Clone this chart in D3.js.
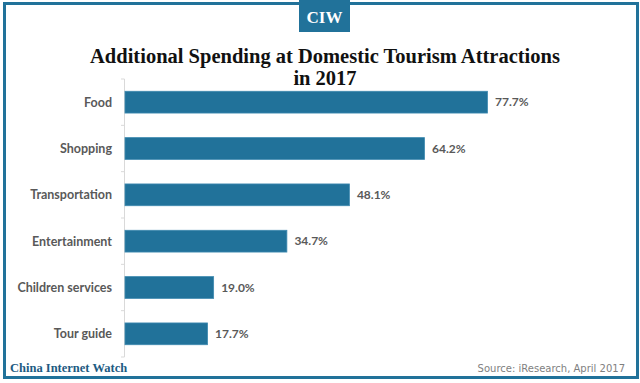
<!DOCTYPE html>
<html>
<head>
<meta charset="utf-8">
<script src="https://cdn.jsdelivr.net/npm/d3@7"></script>
<style>
  body { margin: 0; background: #fff; }
  svg { display: block; }
</style>
</head>
<body>
<script>
const width = 640;
const height = 383;

// data
const categories = ["Food", "Shopping", "Transportation", "Entertainment", "Children services", "Tour guide"];
const values = [77.7, 64.2, 48.1, 34.7, 19.0, 17.7];

const blue = "#21729a";
const grey = "#595959";

const svg = d3
    .select("body")
    .append("svg")
    .attr("width", width)
    .attr("height", height);

svg.append("rect")
    .attr("width", width)
    .attr("height", height)
    .attr("fill", "#fff");

// outer frame
svg.append("rect")
    .attr("x", 4.5)
    .attr("y", 3.5)
    .attr("width", 633)
    .attr("height", 374)
    .attr("fill", "none")
    .attr("stroke", blue)
    .attr("stroke-width", 3);

// CIW badge
svg.append("rect")
    .attr("x", 299)
    .attr("y", 0)
    .attr("width", 51)
    .attr("height", 32)
    .attr("fill", blue);

svg.append("text")
    .attr("x", 324.5)
    .attr("y", 23)
    .attr("text-anchor", "middle")
    .attr("fill", "#fff")
    .style("font", "bold 17px 'Liberation Serif', serif")
    .text("CIW");

// title, two lines
const titleLines = ["Additional Spending at Domestic Tourism Attractions", "in 2017"];
svg.selectAll("text.title")
    .data(titleLines)
    .join("text")
    .attr("class", "title")
    .attr("x", 325)
    .attr("y", (d, i) => 63 + i * 22)
    .attr("text-anchor", "middle")
    .attr("fill", "#111")
    .style("font", "bold 20.5px 'Liberation Serif', serif")
    .text((d) => d);

// scales
const x = d3.scaleLinear().domain([0, 100]).range([124.5, 591]);
const y = d3.scaleBand()
    .domain(categories)
    .range([79, 357])
    .paddingInner(0.53)
    .paddingOuter(0.265);

// axis line with ticks at band edges
const g = svg.append("g");
g.append("line")
    .attr("x1", 124.5).attr("x2", 124.5)
    .attr("y1", 79).attr("y2", 357)
    .attr("stroke", "#d9d9d9");

const step = y.step();
const edges = d3.range(categories.length + 1).map((i) => 79 + i * step);
g.selectAll("line.tick")
    .data(edges)
    .join("line")
    .attr("class", "tick")
    .attr("x1", 121).attr("x2", 124.5)
    .attr("y1", (d) => d).attr("y2", (d) => d)
    .attr("stroke", "#d9d9d9");

// bars
g.selectAll("rect.bar")
    .data(values)
    .join("rect")
    .attr("class", "bar")
    .attr("x", x(0) + 0.5)
    .attr("y", (d, i) => y(categories[i]))
    .attr("width", (d) => x(d) - x(0))
    .attr("height", y.bandwidth())
    .attr("fill", blue)
    .attr("stroke", "#3f8ab0")
    .attr("stroke-width", 0.8);

// value labels
g.selectAll("text.val")
    .data(values)
    .join("text")
    .attr("class", "val")
    .attr("x", (d) => x(d) + 8)
    .attr("y", (d, i) => y(categories[i]) + y.bandwidth() / 2)
    .attr("dy", "0.35em")
    .attr("fill", grey)
    .style("font", "bold 12px Lato, sans-serif")
    .text((d) => d.toFixed(1) + "%");

// category labels
g.selectAll("text.cat")
    .data(categories)
    .join("text")
    .attr("class", "cat")
    .attr("x", 112)
    .attr("y", (d) => y(d) + y.bandwidth() / 2)
    .attr("dy", "0.35em")
    .attr("text-anchor", "end")
    .attr("fill", grey)
    .style("font", "bold 12.5px Lato, sans-serif")
    .text((d) => d);

// footer
svg.append("text")
    .attr("x", 10)
    .attr("y", 372)
    .attr("fill", "#1d5b82")
    .style("font", "bold 12.5px 'Liberation Serif', serif")
    .text("China Internet Watch");

svg.append("text")
    .attr("x", 625)
    .attr("y", 372)
    .attr("text-anchor", "end")
    .attr("fill", "#7f7f7f")
    .style("font", "10px 'DejaVu Sans', sans-serif")
    .text("Source: iResearch, April 2017");
</script>
</body>
</html>
